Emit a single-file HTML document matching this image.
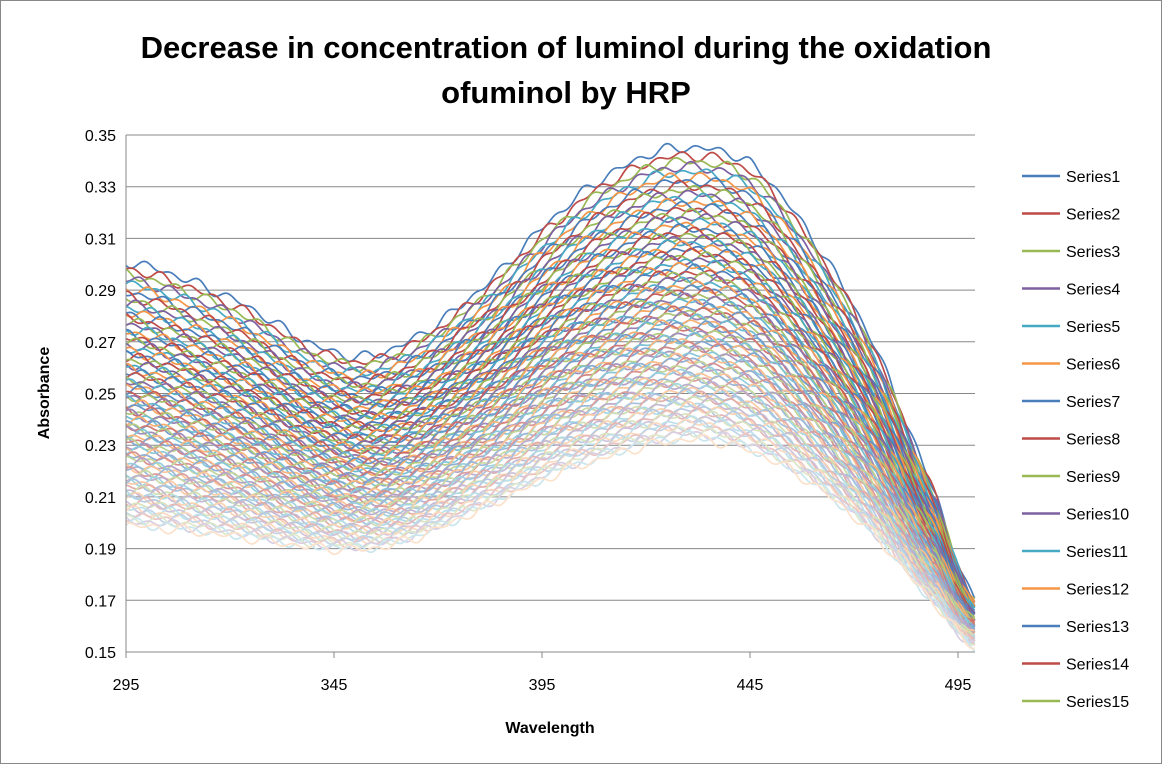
<!DOCTYPE html>
<html><head><meta charset="utf-8"><style>
body{margin:0;background:#fff;}
svg text{font-family:"Liberation Sans",sans-serif;}
</style></head><body>
<svg id="s" width="1162" height="764" xmlns="http://www.w3.org/2000/svg">
<rect x="0.5" y="0.5" width="1161" height="763" fill="#fff" stroke="#888"/>
<text x="566" y="58" font-size="31" font-weight="bold" text-anchor="middle">Decrease in concentration of luminol during the oxidation</text>
<text x="566" y="103" font-size="31" font-weight="bold" text-anchor="middle">ofuminol by HRP</text>
<g id="grid"></g>
<g id="series"></g>
<g id="axes"></g>
<text x="550" y="733" font-size="16" font-weight="bold" text-anchor="middle">Wavelength</text>
<text transform="translate(49,393) rotate(-90)" font-size="16" font-weight="bold" text-anchor="middle">Absorbance</text>
<g id="legend"></g>
</svg>
<script>
(function(){
var X0=126,X1=975,Y0=135,Y1=652;
function xp(w){return X0+(w-295)*4.16;}
function yp(v){return Y1-(v-0.15)/0.2*(Y1-Y0);}
var h='';
for(var i=0;i<=10;i++){var v=0.15+i*0.02,y=yp(v);
h+='<line x1="'+X0+'" x2="'+X1+'" y1="'+y+'" y2="'+y+'" stroke="#888" stroke-width="1"/>';
h+='<text x="'+(X0-10)+'" y="'+(y+6)+'" font-size="16" text-anchor="end">'+v.toFixed(2)+'</text>';}
document.getElementById('grid').innerHTML=h;
var a='';
a+='<line x1="'+X0+'" x2="'+X0+'" y1="'+Y0+'" y2="'+Y1+'" stroke="#888"/>';
a+='<line x1="'+X0+'" x2="'+X1+'" y1="'+Y1+'" y2="'+Y1+'" stroke="#888"/>';
[295,345,395,445,495].forEach(function(w){a+='<line x1="'+xp(w)+'" x2="'+xp(w)+'" y1="'+Y1+'" y2="'+(Y1+6)+'" stroke="#888"/><text x="'+xp(w)+'" y="'+(Y1+38)+'" font-size="16" text-anchor="middle">'+w+'</text>';});
document.getElementById('axes').innerHTML=a;
var TOPP=[[295,.301],[320,.287],[345,.266],[360,.268],[380,.29],[400,.321],[415,.338],[428,.345],[445,.339],[460,.31],[475,.268],[490,.21],[499,.17]];
var BOTP=[[295,.199],[320,.195],[345,.19],[360,.192],[380,.205],[400,.22],[428,.232],[445,.228],[460,.215],[475,.195],[490,.168],[499,.152]];
function interp(p,x){for(var i=0;i<p.length-1;i++){if(x<=p[i+1][0]){var t=(x-p[i][0])/(p[i+1][0]-p[i][0]);
var p0=p[Math.max(0,i-1)][1],p1=p[i][1],p2=p[i+1][1],p3=p[Math.min(p.length-1,i+2)][1];
return 0.5*((2*p1)+(-p0+p2)*t+(2*p0-5*p1+4*p2-p3)*t*t+(-p0+3*p1-3*p2+p3)*t*t*t);}}return p[p.length-1][1];}
var base=["#4A7EBB","#BE4B48","#98B954","#7D60A0","#46AAC5","#F69546"];
function mix(c,f){var r=parseInt(c.slice(1,3),16),gg=parseInt(c.slice(3,5),16),b=parseInt(c.slice(5,7),16);
r=Math.round(r+(255-r)*f);gg=Math.round(gg+(255-gg)*f);b=Math.round(b+(255-b)*f);return 'rgb('+r+','+gg+','+b+')';}
var N=90,s='';
for(var k=0;k<N;k++){var t=Math.pow(k/(N-1),0.8);var d='';
for(var w=295;w<=499;w+=0.5){var v=interp(TOPP,w)*(1-t)+interp(BOTP,w)*t;
v+=0.0013*Math.sin(w*0.95+k*2.3)+0.0009*Math.sin(w*0.61+k*5.1);
d+=(w==295?'M':'L')+xp(w).toFixed(1)+','+yp(v).toFixed(1);}
var f=Math.max(0,(k/N-0.3))*1.05;
var c=mix(base[k%6],Math.min(0.72,f));
s+='<path d="'+d+'" fill="none" stroke="'+c+'" stroke-width="1.7"/>';}
document.getElementById('series').innerHTML=s;
var l='';
for(var i=0;i<15;i++){var y=176+i*37.5;
l+='<line x1="1022" x2="1060" y1="'+y+'" y2="'+y+'" stroke="'+base[i%6]+'" stroke-width="2.5"/><text x="1066" y="'+(y+6)+'" font-size="16">Series'+(i+1)+'</text>';}
document.getElementById('legend').innerHTML=l;
})();
</script>
</body></html>
